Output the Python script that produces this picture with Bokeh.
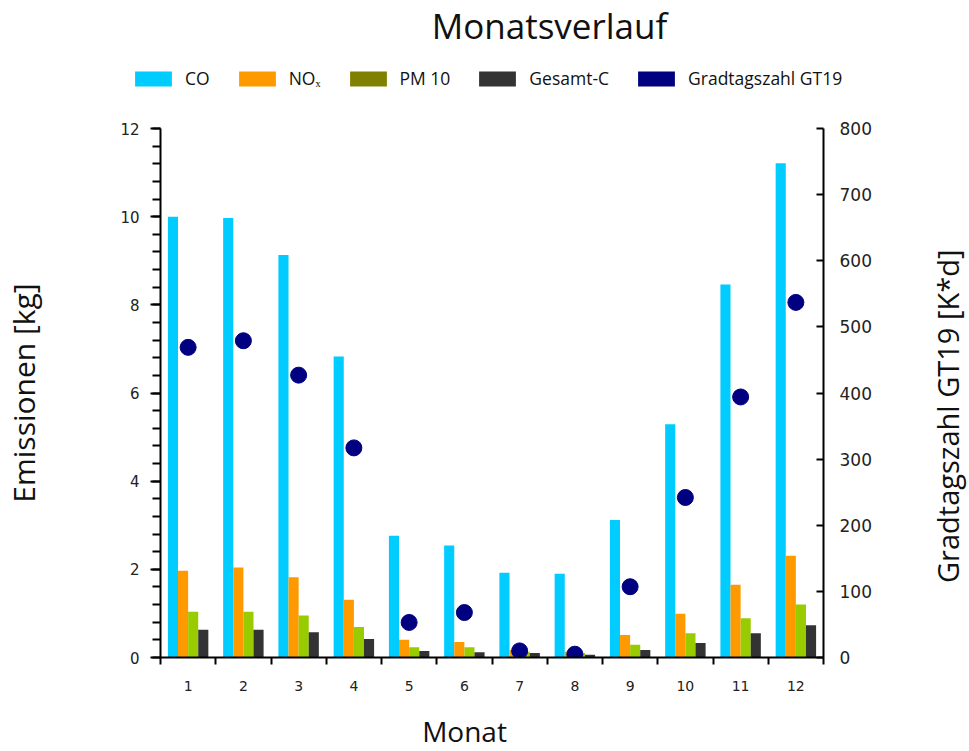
import math
from bokeh.plotting import figure
from bokeh.layouts import column, row
from bokeh.models import (ColumnDataSource, LinearAxis, Range1d, SingleIntervalTicker,
                          FixedTicker, Legend, LegendItem, Label)
from bokeh.transform import dodge
from bokeh.embed import file_html
from bokeh.resources import INLINE

# ---------------- data ----------------
months = [1, 2, 3, 4, 5, 6, 7, 8, 9, 10, 11, 12]
co = [10.0, 9.97, 9.13, 6.83, 2.76, 2.54, 1.92, 1.90, 3.12, 5.29, 8.46, 11.21]
nox = [1.97, 2.04, 1.82, 1.31, 0.40, 0.35, 0.17, 0.13, 0.51, 0.99, 1.65, 2.31]
pm10 = [1.04, 1.04, 0.95, 0.69, 0.23, 0.23, 0.13, 0.10, 0.29, 0.55, 0.89, 1.20]
gesamt_c = [0.63, 0.63, 0.575, 0.42, 0.15, 0.12, 0.10, 0.06, 0.17, 0.33, 0.55, 0.73]
gradtag = [469, 479, 427, 317, 53, 68, 10, 5, 107, 242, 394, 537]

series_labels = ["CO", "NOₓ", "PM 10", "Gesamt-C", "Gradtagszahl GT19"]
bar_colors = ["#00CCFF", "#FF9900", "#99CC00", "#333333"]
legend_colors = ["#00CCFF", "#FF9900", "#808000", "#333333", "#000080"]
point_color = "#000080"

title_text = "Monatsverlauf"
ylabel_left = "Emissionen [kg]"
ylabel_right = "Gradtagszahl GT19 [K*d]"
xlabel = "Monat"

FONT = "Open Sans"
TICKFONT = "DejaVu Sans"
TXT = "#111111"

W = 969
HH, MH, FH = 118, 579, 54
MW = 925
RW = W - MW


def blank(width, height):
    f = figure(width=width, height=height, x_range=Range1d(0, width),
               y_range=Range1d(0, height), x_axis_type=None, y_axis_type=None,
               min_border=0, title_location=None, output_backend="svg",
               toolbar_location=None)
    f.outline_line_color = None
    return f


# ---------------- header (title + legend) ----------------
header = blank(W, HH)
header.add_layout(Label(x=549, y=HH - 24.7, text=title_text, text_align="center",
                        text_baseline="middle", text_font=FONT,
                        text_font_size="35px", text_color=TXT))
nan = float("nan")
swatches = [header.vbar(x=[nan], top=[nan], width=1, fill_color=c, line_color=None)
            for c in legend_colors]
legend = Legend(items=[LegendItem(label=l, renderers=[r])
                       for l, r in zip(series_labels, swatches)],
                location=(130, 28), orientation="horizontal",
                glyph_width=46, glyph_height=19, label_standoff=9, spacing=24,
                padding=0, margin=0, border_line_color=None,
                background_fill_alpha=0, label_text_font=FONT,
                label_text_font_size="17.5px", label_text_color=TXT,
                label_height=19, label_text_baseline="middle")
header.add_layout(legend)

# ---------------- main chart ----------------
src = ColumnDataSource(dict(month=months, co=co, nox=nox, pm10=pm10,
                            gc=gesamt_c, gt=gradtag))
bw = 0.183
boundaries = [m - 0.5 for m in months] + [months[-1] + 0.5]

p = figure(width=MW, height=MH,
           x_range=Range1d(months[0] - 0.5, months[-1] + 0.5),
           y_range=Range1d(0, 12), title_location=None,
           output_backend="svg", toolbar_location=None,
           min_border_left=156, min_border_right=MW - 823,
           min_border_top=10, min_border_bottom=40)
p.extra_y_ranges = {"gt": Range1d(0, 800)}
p.outline_line_color = None
p.xgrid.visible = False
p.ygrid.visible = False

fields = ["co", "nox", "pm10", "gc"]
offsets = [-1.5 * bw, -0.5 * bw, 0.5 * bw, 1.5 * bw]
for f, off, c in zip(fields, offsets, bar_colors):
    p.vbar(x=dodge("month", off), top=f, width=bw, source=src,
           fill_color=c, line_color=None)

p.scatter("month", "gt", source=src, y_range_name="gt", size=16,
          fill_color=point_color, line_color=point_color)

# left axis
ya = p.yaxis[0]
ya.ticker = SingleIntervalTicker(interval=2, num_minor_ticks=5)
ya.axis_label = ylabel_left
ya.axis_label_text_font = FONT
ya.axis_label_text_font_size = "30px"
ya.axis_label_text_font_style = "normal"
ya.axis_label_text_color = TXT
ya.axis_label_standoff = 73
ya.major_label_text_font = TICKFONT
ya.major_label_text_font_size = "15px"
ya.major_label_text_color = "#222222"
ya.major_label_standoff = 11
ya.axis_line_width = 2
ya.axis_line_color = "black"
ya.major_tick_in = 0
ya.major_tick_out = 10
ya.minor_tick_in = 0
ya.minor_tick_out = 8
ya.major_tick_line_width = 2
ya.minor_tick_line_width = 2

# right axis
ra = LinearAxis(y_range_name="gt",
                ticker=SingleIntervalTicker(interval=100, num_minor_ticks=0))
ra.major_label_text_font = TICKFONT
ra.major_label_text_font_size = "17px"
ra.major_label_text_color = "#222222"
ra.major_label_standoff = 16
ra.axis_line_width = 2
ra.axis_line_color = "black"
ra.major_tick_in = 7
ra.major_tick_out = 0
ra.major_tick_line_width = 2
p.add_layout(ra, "right")

# x axis
xa = p.xaxis[0]
xa.ticker = FixedTicker(ticks=months, minor_ticks=boundaries)
xa.major_label_text_font = TICKFONT
xa.major_label_text_font_size = "14px"
xa.major_label_text_color = "#222222"
xa.major_label_standoff = 16
xa.axis_line_width = 2
xa.axis_line_color = "black"
xa.major_tick_in = 0
xa.major_tick_out = 0
xa.minor_tick_in = 0
xa.minor_tick_out = 7
xa.minor_tick_line_width = 2

# ---------------- right label strip ----------------
rfig = blank(RW, MH)
rfig.add_layout(Label(x=21.7, y=MH - (433 - HH), text=ylabel_right,
                      angle=math.pi / 2, text_align="center", text_baseline="middle",
                      text_font=FONT, text_font_size="29px", text_color=TXT))

# ---------------- footer (x label) ----------------
footer = blank(W, FH)
footer.add_layout(Label(x=464, y=21, text=xlabel, text_align="center",
                        text_baseline="middle", text_font=FONT,
                        text_font_size="28px", text_color=TXT))

page = column(header, row(p, rfig, spacing=0), footer, spacing=0)
open("out.html", "w").write(file_html(page, INLINE))
